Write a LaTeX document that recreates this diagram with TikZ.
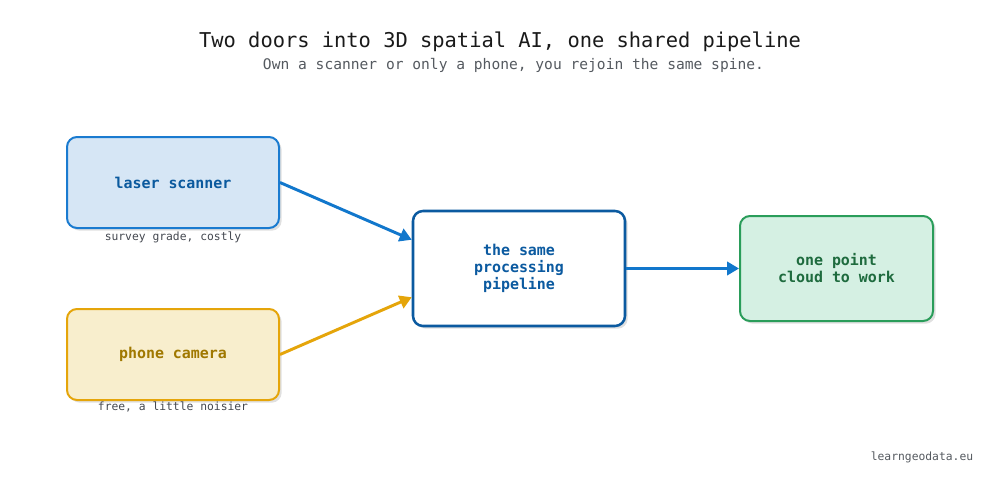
\documentclass[tikz,border=0pt]{standalone}
\usepackage{fontspec}
\setmonofont{DejaVu Sans Mono}
\usetikzlibrary{arrows.meta,shadows}
\definecolor{titlec}{HTML}{1A1A1A}
\definecolor{subc}{HTML}{555A60}
\definecolor{notec}{HTML}{444850}
\definecolor{blueb}{HTML}{1A7BD0}
\definecolor{bluef}{HTML}{D6E6F5}
\definecolor{bluet}{HTML}{0B5A9E}
\definecolor{orab}{HTML}{E5A50A}
\definecolor{oraf}{HTML}{F8EECD}
\definecolor{orat}{HTML}{A07800}
\definecolor{pipeb}{HTML}{0B5AA0}
\definecolor{grnb}{HTML}{2A9D5A}
\definecolor{grnf}{HTML}{D5F0E3}
\definecolor{grnt}{HTML}{1E6B3E}
\definecolor{arrblue}{HTML}{1177CC}
\tikzset{
  box/.style={rectangle, rounded corners=7.5pt, line width=1.5pt, align=center,
    font=\ttfamily\bfseries\fontsize{11.2}{12.75}\selectfont,
    drop shadow={shadow xshift=2pt, shadow yshift=-2pt, opacity=0.12, fill=black}},
  note/.style={font=\ttfamily\fontsize{8.5}{10}\selectfont, text=notec},
  conn/.style={line width=2.2pt, -{Triangle[length=9pt,width=10pt]}}
}
\begin{document}
\begin{tikzpicture}[x=0.75pt,y=-0.75pt]
\useasboundingbox[fill=white] (0,0) rectangle (1000,489);
\node[font=\ttfamily\fontsize{15.3}{18}\selectfont, text=titlec] (title) at (500,42) {Two doors into 3D spatial AI, one shared pipeline};
\node[font=\ttfamily\fontsize{10.95}{13}\selectfont, text=subc] (sub) at (513.5,65) {Own a scanner or only a phone, you rejoin the same spine.};
\node[box, draw=blueb, fill=bluef, text=bluet, minimum width=159pt, minimum height=68.25pt] (laser) at (173,182.5) {laser scanner};
\node[box, draw=orab, fill=oraf, text=orat, minimum width=159pt, minimum height=68.25pt] (phone) at (173,354.5) {phone camera};
\node[box, draw=pipeb, fill=white, text=pipeb, line width=1.9pt, minimum width=159pt, minimum height=86.25pt] (pipe) at (519,268.5) {the same\\processing\\pipeline};
\node[box, draw=grnb, fill=grnf, text=grnt, minimum width=144.75pt, minimum height=78.75pt] (cloud) at (836.5,268.5) {one point\\cloud to work};
\node[note] (n1) at (173,237) {survey grade, costly};
\node[note] (n2) at (173,407) {free, a little noisier};
\node[note, text=subc] (brand) at (922,457) {learngeodata.eu};
\draw[conn, arrblue] (laser.east) -- (pipe.165);
\draw[conn, orab] (phone.east) -- (pipe.195);
\draw[conn, arrblue] (pipe.east) -- (cloud.west);
\end{tikzpicture}
\end{document}
